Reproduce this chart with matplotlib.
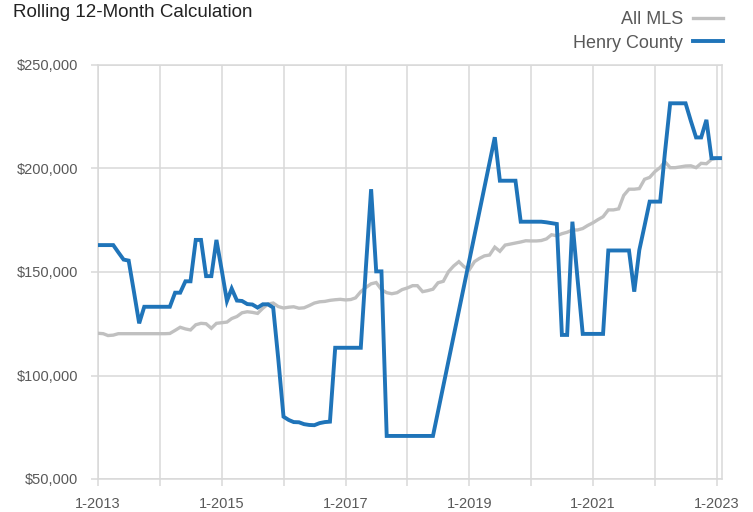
import matplotlib
matplotlib.use("Agg")
import matplotlib.pyplot as pyplot
import matplotlib.dates as mdates
from matplotlib.ticker import FuncFormatter
import numpy as np
import pandas as pd

# rolling 12-month median sales price, monthly from 1-2013 to 2-2023 (in $1,000)
months = pd.date_range("2013-01-01", periods=122, freq="MS")

all_mls = [
	120.4, 120.2, 119.3, 119.5, 120.2, 120.2, 120.2, 120.2, 120.2, 120.2,
	120.2, 120.2, 120.2, 120.2, 120.3, 121.8, 123.3, 122.5, 122.0, 124.5,
	125.2, 125.0, 122.8, 125.2, 125.5, 125.8, 127.5, 128.5, 130.3, 130.8,
	130.5, 130.0, 132.5, 134.5, 135.0, 133.3, 132.6, 133.0, 133.2, 132.5,
	132.7, 133.8, 135.0, 135.6, 135.8, 136.3, 136.6, 136.8, 136.5, 136.7,
	137.5, 140.5, 142.5, 144.3, 144.9, 141.5, 140.0, 139.5, 140.0, 141.5,
	142.3, 143.4, 143.4, 140.5, 141.0, 141.7, 144.8, 145.5, 150.2, 152.9,
	155.0, 152.6, 151.0, 155.0, 156.5, 157.8, 158.2, 162.0, 160.0, 163.0,
	163.5, 164.0, 164.5, 165.1, 165.0, 165.0, 165.2, 166.0, 168.0, 167.5,
	168.5, 169.2, 170.3, 170.3, 171.0, 172.5, 173.8, 175.4, 176.7, 180.0,
	180.0, 180.5, 187.0, 190.0, 190.0, 190.3, 194.8, 195.7, 198.5, 200.5,
	203.3, 200.4, 200.4, 200.8, 201.2, 201.3, 200.4, 202.5, 202.3, 204.4,
	205.0, 205.0,
]

nan = np.nan
henry_county = [
	163.0, 163.0, 163.0, 163.0, 159.5, 156.0, 155.5, 140.5, 125.2, 133.2,
	133.2, 133.2, 133.2, 133.2, 133.2, 140.0, 140.0, 145.5, 145.5, 165.5,
	165.5, 148.0, 148.0, 165.5, 151.0, 136.0, 142.0, 136.2, 136.0, 134.5,
	134.3, 132.8, 134.4, 134.4, 132.8, 108.0, 80.1, 78.5, 77.5, 77.4,
	76.5, 76.1, 76.0, 77.0, 77.5, 77.7, 113.4, 113.4, 113.4, 113.4,
	113.4, 113.4, 152.0, 190.0, 150.3, 150.3, 70.8, 70.8, 70.8, 70.8,
	70.8, 70.8, 70.8, 70.8, 70.8, 70.8, nan, nan, nan, nan,
	nan, nan, nan, nan, nan, nan, nan, 215.1, 194.1, 194.1,
	194.1, 194.1, 174.3, 174.3, 174.3, 174.3, 174.3, 174.0, 173.6, 173.2,
	119.6, 119.6, 174.3, 147.0, 120.1, 120.1, 120.1, 120.1, 120.1, 160.4,
	160.4, 160.4, 160.4, 160.4, 140.5, 160.6, 172.4, 184.0, 184.0, 184.0,
	207.5, 231.5, 231.5, 231.5, 231.5, 223.0, 215.0, 215.0, 223.5, 205.0,
	205.0, 205.0,
]

y_ticks = [50000, 100000, 150000, 200000, 250000]

GRID = "#d9d9d9"
TEXT = "#595959"


def resetPyPlot():
	pyplot.clf()
	pyplot.style.use(["default"])
	pyplot.rcParams["font.family"] = ["Liberation Sans", "DejaVu Sans"]
	pyplot.rcParams["font.size"] = 10


def rolling_chart():
	resetPyPlot()

	fig = pyplot.figure(figsize=(7.53, 5.12), dpi=100)
	ax = fig.add_axes([98 / 753, 1 - 479 / 512, 624 / 753, 414 / 512])

	mls = np.array(all_mls) * 1000
	henry = np.array(henry_county) * 1000
	ok = ~np.isnan(henry)

	ax.plot(months, mls, color="#c0c0c0", lw=2.4, label="All MLS", solid_joinstyle="miter", zorder=3)
	ax.plot(months[ok], henry[ok], color="#1f74b9", lw=2.8, label="Henry County", solid_joinstyle="miter", zorder=4)

	ax.set_xlim(months[0], months[-1])
	ax.set_ylim(50000, 250000)
	ax.set_yticks(y_ticks)
	ax.yaxis.set_major_formatter(FuncFormatter(lambda v, p: "${:,.0f}".format(v)))

	ax.xaxis.set_major_locator(mdates.YearLocator())
	ax.xaxis.set_major_formatter(FuncFormatter(
		lambda v, p: "1-%d" % mdates.num2date(v).year if mdates.num2date(v).year % 2 == 1 else ""))

	ax.grid(True, color=GRID, lw=1.1)
	ax.set_axisbelow(True)
	for s in ax.spines.values():
		s.set_color(GRID)
		s.set_linewidth(1.1)
	ax.tick_params(axis="both", color=GRID, width=1.1, length=5, labelcolor=TEXT, labelsize=10.5)
	ax.tick_params(axis="y", pad=9.5)
	ax.tick_params(axis="x", pad=8)

	fig.text(13 / 753, 1 - 17 / 512, "Rolling 12-Month Calculation", fontsize=13.5, color="#222222",
		ha="left", va="baseline")

	fig.legend(loc="upper right", bbox_to_anchor=(723 / 753, 1 - 11 / 512), frameon=False, markerfirst=False,
		fontsize=13, labelcolor=TEXT, handlelength=1.65, handletextpad=0.55, labelspacing=0.36, borderpad=0,
		borderaxespad=0)

	pyplot.savefig("out.png", dpi=100)


rolling_chart()
